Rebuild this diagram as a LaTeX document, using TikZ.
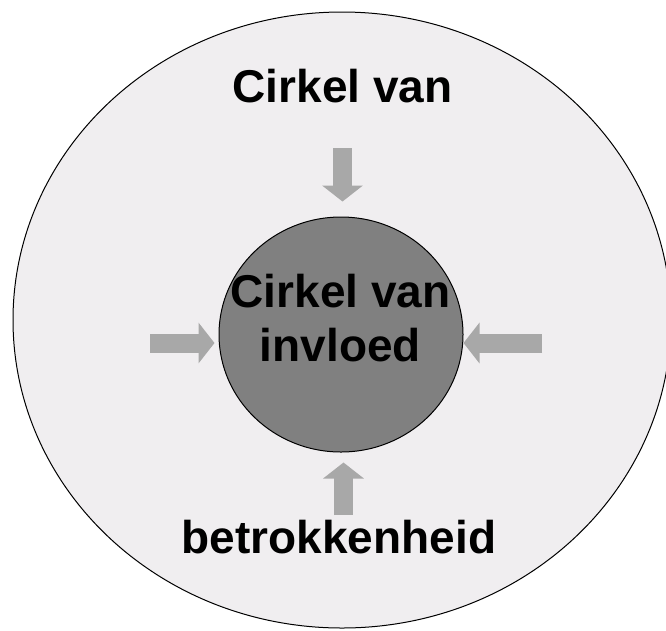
\documentclass[tikz,border=0pt]{standalone}
\usepackage{fontspec}
\setmainfont{Liberation Sans}
\usetikzlibrary{arrows.meta,shapes.geometric,positioning}
\definecolor{OuterFill}{RGB}{240,238,240}
\definecolor{InnerFill}{RGB}{128,128,128}
\definecolor{PushGrey}{RGB}{168,168,168}
\tikzset{
  ring/.style={ellipse,draw=black,line width=1pt,inner sep=0pt},
  bigtext/.style={font=\bfseries\fontsize{46}{54}\selectfont,align=center,inner sep=0pt},
  push/.style={draw=PushGrey,line width=19pt,-{Triangle[length=16pt,width=40pt]}}
}
\begin{document}
\begin{tikzpicture}[x=1pt,y=-1pt]
  \useasboundingbox (0,0) rectangle (666,630);
  \begin{scope}
    \clip (0,0) rectangle (666,630);
    \node[ring,fill=OuterFill,minimum width=658pt,minimum height=616pt] (outer) at (342,320) {};
  \end{scope}
  \node[ring,fill=InnerFill,minimum width=244pt,minimum height=235pt] (inner) at (341,334.5) {};
  \node[bigtext] (innertext) at (340.5,318.5) {Cirkel van\\invloed};
  \node[bigtext,anchor=base] (toptext) at (342.5,102) {Cirkel van};
  \node[bigtext,anchor=base] (bottomtext) at (339,553) {betrokkenheid};
  % arrows pointing in
  \coordinate (topfrom) at (342.5,148);
  \coordinate (bottomfrom) at (343.5,515);
  \coordinate (leftfrom) at (150,343);
  \coordinate (rightfrom) at (542,343);
  \draw[push,shorten >=15pt] (topfrom) -- (topfrom |- inner.north);
  \draw[push,shorten >=10pt] (bottomfrom) -- (bottomfrom |- inner.south);
  \draw[push,shorten >=4pt] (leftfrom) -- (leftfrom -| inner.west);
  \draw[push] (rightfrom) -- (rightfrom -| inner.east);
\end{tikzpicture}
\end{document}
